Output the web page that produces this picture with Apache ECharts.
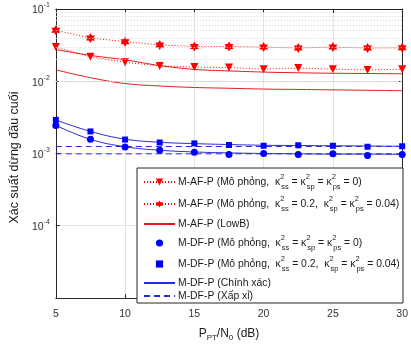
<!DOCTYPE html>
<html><head><meta charset="utf-8">
<script src="https://cdn.jsdelivr.net/npm/echarts@6/dist/echarts.min.js"></script>
<style>html,body{margin:0;padding:0;background:#fff}#c{width:411px;height:347px}</style>
</head><body><div id="c"></div>
<script>
const xVals = [5, 7.5, 10, 12.5, 15, 17.5, 20, 22.5, 25, 27.5, 30];
// M-AF-P simulation
const afSim0 = [0.0297, 0.0218, 0.0183, 0.0163, 0.0157, 0.0155, 0.0147, 0.0152, 0.0147, 0.0143, 0.0147];
const afSim2 = [0.0507, 0.0396, 0.0353, 0.0318, 0.0303, 0.0303, 0.0297, 0.0288, 0.0297, 0.0288, 0.0290];
// M-AF-P lower bound
const afLowUpper = [0.0275, 0.0228, 0.0198, 0.0165, 0.0146, 0.0139, 0.0134, 0.0131, 0.0129, 0.0128, 0.0127];
const afLowLower = [0.0144, 0.0112, 0.0093, 0.0086, 0.0082, 0.0080, 0.0078, 0.0077, 0.0076, 0.0075, 0.0074];
// M-DF-P simulation
const dfSim0 = [0.00245, 0.00157, 0.00123, 0.00111, 0.00104, 0.00097, 0.00100, 0.00097, 0.00099, 0.00094, 0.00097];
const dfSim2 = [0.00292, 0.00202, 0.00156, 0.00142, 0.00138, 0.00131, 0.00128, 0.00130, 0.00128, 0.00124, 0.00126];
// M-DF-P exact
const dfExact0 = [0.00245, 0.00157, 0.00124, 0.00111, 0.00105, 0.00102, 0.00100, 0.00099, 0.00098, 0.00098, 0.00097];
const dfExact2 = [0.00292, 0.00202, 0.00158, 0.00143, 0.00137, 0.00133, 0.00130, 0.00129, 0.00128, 0.00127, 0.00126];
// M-DF-P approximation (asymptotes)
const dfApprox0 = [0.00099, 0.00099, 0.00099, 0.00099, 0.00099, 0.00099, 0.00099, 0.00099, 0.00099, 0.00099, 0.00099];
const dfApprox2 = [0.00125, 0.00125, 0.00125, 0.00125, 0.00125, 0.00125, 0.00125, 0.00125, 0.00125, 0.00125, 0.00125];
// minor grid of the log axis
const minorGrid = [];
[1e-5, 1e-4, 1e-3, 1e-2].forEach(d => { for (let k = 2; k <= 9; k++) minorGrid.push(d * k); });

const legendLabels = {
  AF0: 'M-AF-P (Mô phỏng,  κ{sup|2}{sub|ss} = κ{sup|2}{sub|sp} = κ{sup|2}{sub|ps} = 0)',
  AF2: 'M-AF-P (Mô phỏng,  κ{sup|2}{sub|ss} = 0.2,  κ{sup|2}{sub|sp} = κ{sup|2}{sub|ps} = 0.04)',
  AFL: 'M-AF-P (LowB)',
  DF0: 'M-DF-P (Mô phỏng,  κ{sup|2}{sub|ss} = κ{sup|2}{sub|sp} = κ{sup|2}{sub|ps} = 0)',
  DF2: 'M-DF-P (Mô phỏng,  κ{sup|2}{sub|ss} = 0.2,  κ{sup|2}{sub|sp} = κ{sup|2}{sub|ps} = 0.04)',
  DFE: 'M-DF-P (Chính xác)',
  DFA: 'M-DF-P (Xấp xỉ)'
};
const legendOrder = ['AF0', 'AF2', 'AFL', 'DF0', 'DF2', 'DFE', 'DFA'];
const lineOnly = ['AFL', 'DFE', 'DFA'];
const legendCenters = [182, 204, 224, 243, 264, 283, 296];

const zip = arr => xVals.map((x, i) => [x, arr[i]]);
const RED = '#ff0000', REDL = '#e41a1c', BLUE = '#0000ff', BLUEL = '#2a2ad6';
const hexagram = 'path://M0,-10L2.89,-5L8.66,-5L5.77,0L8.66,5L2.89,5L0,10L-2.89,5L-8.66,5L-5.77,0L-8.66,-5L-2.89,-5Z';
const FONT = 'Liberation Sans, Arial, sans-serif';
const TXT = '#1a1a1a';

const chart = echarts.init(document.getElementById('c'), null, {renderer: 'canvas'});
const legends = legendOrder.map((n, i) => ({
  data: [lineOnly.includes(n) ? {name: n, itemStyle: {opacity: 0}} : n],
  orient: 'vertical', left: 143, top: legendCenters[i] - 9, padding: 0,
  itemWidth: 31, itemHeight: 9, itemGap: 0, z: 10, selectedMode: false,
  formatter: name => legendLabels[name],
  textStyle: {
    fontFamily: FONT, fontSize: 10.4, color: TXT, lineHeight: 18, padding: [0, 0, 0, -2],
    rich: {
      sup: {fontFamily: FONT, fontSize: 7.5, lineHeight: 9, verticalAlign: 'top', width: 1, color: TXT},
      sub: {fontFamily: FONT, fontSize: 7.5, lineHeight: 9, verticalAlign: 'bottom', color: TXT}
    }
  }
}));

const option = {
  animation: false,
  backgroundColor: '#fff',
  grid: {left: 43, right: 5, top: 9, bottom: 40, containLabel: false},
  legend: legends,
  graphic: [{
    type: 'rect', z: 5, shape: {x: 137, y: 168, width: 266, height: 135},
    style: {fill: '#fff', stroke: '#262626', lineWidth: 1}
  }],
  xAxis: [{
    type: 'value', min: 5, max: 30, interval: 5,
    name: 'P{s|PT}/N{s|0} (dB)', nameLocation: 'middle', nameGap: 28,
    nameTextStyle: {fontFamily: FONT, fontSize: 12, color: TXT, lineHeight: 16,
      rich: {s: {fontFamily: FONT, fontSize: 8, lineHeight: 8, verticalAlign: 'bottom', color: TXT}}},
    axisLine: {lineStyle: {color: '#262626', width: 1}},
    axisTick: {inside: true, length: 4, lineStyle: {color: '#262626'}},
    axisLabel: {fontFamily: FONT, fontSize: 10.5, color: '#333', margin: 11},
    splitLine: {show: true, lineStyle: {color: '#e3e3e3', width: 1}}
  }, {
    type: 'value', min: 5, max: 30, interval: 5, position: 'top',
    axisLine: {show: true, lineStyle: {color: '#262626'}},
    axisTick: {inside: true, length: 4, lineStyle: {color: '#262626'}},
    axisLabel: {show: false}, splitLine: {show: false}
  }],
  yAxis: [{
    type: 'log', min: 1e-5, max: 1e-1, logBase: 10,
    name: 'Xác suất dừng đầu cuối', nameLocation: 'middle', nameGap: 31,
    nameTextStyle: {fontFamily: FONT, fontSize: 12.5, color: TXT, padding: [0, 0, 0, -8]},
    axisLine: {show: true, lineStyle: {color: '#262626', width: 1}},
    axisTick: {inside: true, length: 4, lineStyle: {color: '#262626'}},
    axisLabel: {
      margin: 6, showMinLabel: false,
      formatter: v => '{b|10}{e|' + Math.round(Math.log10(v)) + '}',
      rich: {
        b: {fontFamily: FONT, fontSize: 10.5, color: '#333', lineHeight: 14, verticalAlign: 'bottom'},
        e: {fontFamily: FONT, fontSize: 7, color: '#333', lineHeight: 8, verticalAlign: 'top'}
      },
      lineHeight: 16
    },
    splitLine: {show: true, lineStyle: {color: '#e3e3e3', width: 1}}
  }, {
    type: 'log', min: 1e-5, max: 1e-1, logBase: 10, position: 'right',
    axisLine: {show: true, lineStyle: {color: '#262626'}},
    axisTick: {inside: true, length: 4, lineStyle: {color: '#262626'}},
    axisLabel: {show: false}, splitLine: {show: false}
  }],
  series: [
    {type: 'line', data: [], silent: true, z: 1,
      markLine: {silent: true, symbol: 'none', label: {show: false}, animation: false,
        lineStyle: {color: '#d3d3d3', type: [1, 2], width: 1},
        data: minorGrid.map(v => ({yAxis: v}))}},
    {name: 'AFL', type: 'line', data: zip(afLowUpper), symbol: 'none', smooth: 0.4,
      lineStyle: {color: REDL, width: 1}, itemStyle: {color: REDL}},
    {name: 'AFL', type: 'line', data: zip(afLowLower), symbol: 'none', smooth: 0.4,
      lineStyle: {color: REDL, width: 1}, itemStyle: {color: REDL}},
    {name: 'AF0', type: 'line', data: zip(afSim0), symbol: 'triangle', symbolRotate: 180, symbolSize: 8,
      lineStyle: {color: RED, width: 1, type: [1, 2]}, itemStyle: {color: RED}},
    {name: 'AF2', type: 'line', data: zip(afSim2), symbol: hexagram, symbolSize: [9, 10],
      lineStyle: {color: RED, width: 1, type: [1, 2]}, itemStyle: {color: RED}},
    {name: 'DFE', type: 'line', data: zip(dfExact2), symbol: 'none', smooth: 0.4,
      lineStyle: {color: BLUEL, width: 1}, itemStyle: {color: BLUEL}},
    {name: 'DFE', type: 'line', data: zip(dfExact0), symbol: 'none', smooth: 0.4,
      lineStyle: {color: BLUEL, width: 1}, itemStyle: {color: BLUEL}},
    {name: 'DFA', type: 'line', data: zip(dfApprox2), symbol: 'none',
      lineStyle: {color: BLUEL, width: 1, type: [6, 4]}, itemStyle: {color: BLUEL}},
    {name: 'DFA', type: 'line', data: zip(dfApprox0), symbol: 'none',
      lineStyle: {color: BLUEL, width: 1, type: [6, 4]}, itemStyle: {color: BLUEL}},
    {name: 'DF0', type: 'line', data: zip(dfSim0), symbol: 'circle', symbolSize: 7,
      lineStyle: {opacity: 0}, itemStyle: {color: BLUE}},
    {name: 'DF2', type: 'line', data: zip(dfSim2), symbol: 'rect', symbolSize: 6,
      lineStyle: {opacity: 0}, itemStyle: {color: BLUE}}
  ]
};
chart.setOption(option);
</script></body></html>
